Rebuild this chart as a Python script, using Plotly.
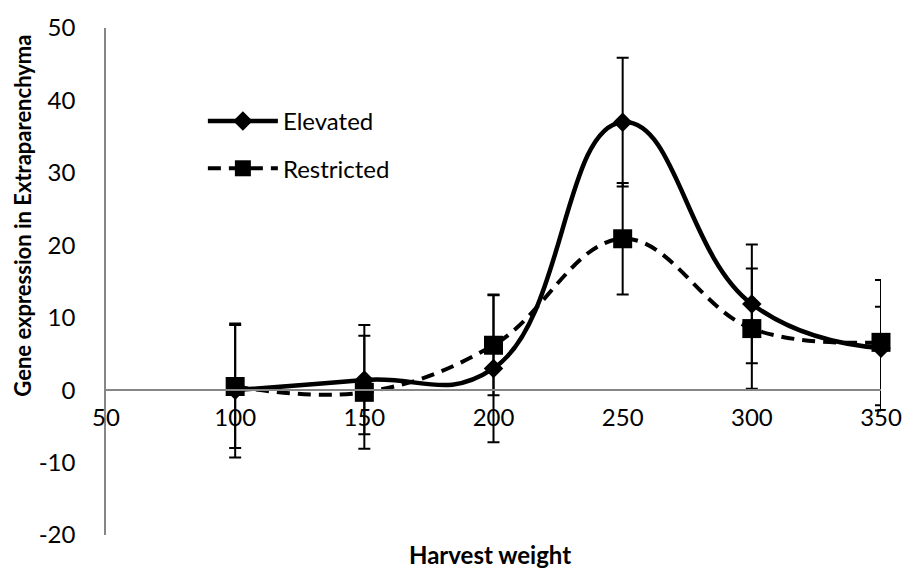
import plotly.graph_objects as go

harvest_weight = [100, 150, 200, 250, 300, 350]

elevated = [0.0, 1.4, 3.0, 37.0, 11.9, 5.8]
elevated_err_plus = [9.2, 7.6, 10.2, 8.9, 8.2, 5.7]
elevated_err_minus = [9.3, 7.5, 10.2, 8.9, 8.2, 8.6]

restricted = [0.5, -0.3, 6.2, 20.9, 8.5, 6.6]
restricted_err_plus = [8.5, 7.8, 6.9, 7.7, 8.3, 8.6]
restricted_err_minus = [8.5, 7.8, 6.9, 7.7, 8.3, 8.7]

x_ticks = [50, 100, 150, 200, 250, 300, 350]
y_ticks = [-20, -10, 0, 10, 20, 30, 40, 50]

FONT = "Lato"

fig = go.Figure()

fig.add_trace(go.Scatter(
    x=harvest_weight, y=elevated, name="Elevated", legendgroup="a",
    mode="lines+markers", cliponaxis=False,
    line=dict(color="black", width=4.5, shape="spline", smoothing=1.3),
    marker=dict(symbol="diamond", size=15, color="black"),
    error_y=dict(type="data", symmetric=False, array=elevated_err_plus,
                 arrayminus=elevated_err_minus, color="black", thickness=2, width=6),
))

fig.add_trace(go.Scatter(
    x=harvest_weight, y=restricted, name="Restricted", legendgroup="b",
    mode="lines+markers", cliponaxis=False,
    line=dict(color="black", width=4, dash="13px,8px", shape="spline", smoothing=1.1),
    marker=dict(symbol="square", size=19, color="black"),
    error_y=dict(type="data", symmetric=False, array=restricted_err_plus,
                 arrayminus=restricted_err_minus, color="black", thickness=2, width=6),
))

fig.update_layout(
    width=914, height=573,
    margin=dict(l=106, r=25, t=22, b=38),
    paper_bgcolor="white", plot_bgcolor="white",
    font=dict(family=FONT, size=24, color="black"),
    showlegend=True,
    legend=dict(
        x=0.125, y=0.86, xanchor="left", yanchor="top",
        bgcolor="rgba(0,0,0,0)", font=dict(family=FONT, size=24, color="black"),
        itemwidth=70, traceorder="grouped", tracegroupgap=13,
    ),
    xaxis=dict(
        range=[50, 350], tickmode="array", tickvals=x_ticks,
        ticktext=[str(v) for v in x_ticks],
        showgrid=False, zeroline=False, showline=True,
        linecolor="#868686", linewidth=1.5,
        anchor="free", position=20 / 70,
        ticks="", ticklabelstandoff=6, ticklabeloverflow="allow",
        tickfont=dict(family=FONT, size=24, color="black"),
    ),
    yaxis=dict(
        range=[-20, 50], tickmode="array", tickvals=y_ticks,
        ticktext=[str(v) for v in y_ticks],
        showgrid=False, zeroline=False, showline=True,
        linecolor="#868686", linewidth=1.5,
        ticks="", ticklabelstandoff=24, ticklabeloverflow="allow",
        tickfont=dict(family=FONT, size=24, color="black"),
    ),
    annotations=[
        dict(text="<b>Gene expression in Extraparenchyma</b>", xref="paper", yref="paper",
             x=-0.107, y=0.63, xanchor="center", yanchor="middle", textangle=-90,
             showarrow=False, font=dict(family=FONT, size=22, color="black")),
        dict(text="<b>Harvest weight</b>", xref="paper", yref="paper",
             x=0.496, y=-0.039, xanchor="center", yanchor="middle",
             showarrow=False, font=dict(family=FONT, size=24, color="black")),
    ],
)

fig.write_html("out.html")
